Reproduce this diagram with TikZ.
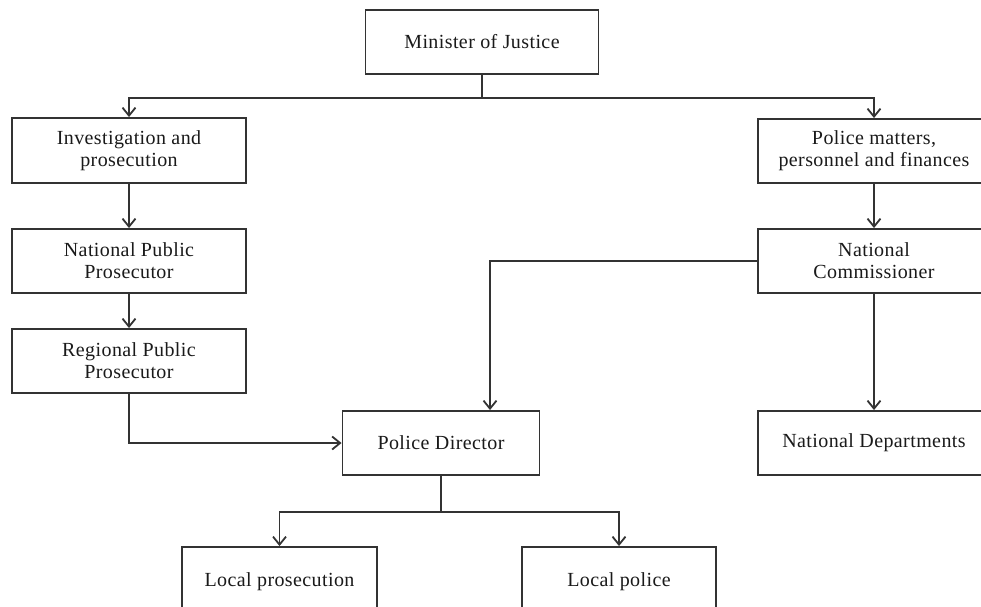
\documentclass[tikz,border=0pt]{standalone}
\usepackage{fontspec}
\setmainfont{Liberation Serif}[LetterSpace=2]
\usetikzlibrary{arrows.meta,calc}
\definecolor{linecol}{HTML}{333333}
\definecolor{textcol}{HTML}{1A1A1A}
\tikzset{
  box/.style={draw=linecol, line width=1.9pt, fill=white, rectangle, align=center,
    text=textcol, font=\fontsize{20}{22}\selectfont, inner sep=0pt},
  arr/.style={draw=linecol, line width=1.8pt, -{Straight Barb[length=8pt,width=13pt,line width=1.8pt]}},
  plainline/.style={draw=linecol, line width=1.8pt}
}
\begin{document}
\begin{tikzpicture}[x=1pt,y=-1pt]
\useasboundingbox (0,0) rectangle (981,606);
\clip (0,0) rectangle (981,606);
\fill[white] (0,0) rectangle (981,606);
\node[box, minimum width=233pt, minimum height=64pt] (min) at (482,42) {Minister of Justice};
\node[box, minimum width=234pt, minimum height=65pt] (inv) at (129,150.5) {Investigation and\\prosecution};
\node[box, minimum width=234pt, minimum height=64pt] (npp) at (129,261) {National Public\\Prosecutor};
\node[box, minimum width=234pt, minimum height=64pt] (rpp) at (129,361) {Regional Public\\Prosecutor};
\node[box, minimum width=197pt, minimum height=64pt] (pd) at (441,443) {Police Director};
\node[box, minimum width=232pt, minimum height=64pt] (pm) at (874,151) {Police matters,\\personnel and finances};
\node[box, minimum width=232pt, minimum height=64pt] (nc) at (874,261) {National\\Commissioner};
\node[box, minimum width=232pt, minimum height=64pt] (nd) at (874,443) {National Departments};
\node[box, minimum width=195pt, minimum height=70pt] (lp) at (279.5,582) {Local prosecution};
\node[box, minimum width=194pt, minimum height=70pt] (lpol) at (619,582) {Local police};
\coordinate (j1) at ($(min.south)+(0,23)$);
\coordinate (j2) at ($(pd.south)+(0,36)$);
\draw[plainline] (min.south) -- (j1);
\draw[arr] (j1) -| (inv.north);
\draw[arr] (j1) -| (pm.north);
\draw[arr] (inv) -- (npp);
\draw[arr] (npp) -- (rpp);
\draw[arr] (rpp.south) |- (pd.west);
\draw[arr] (pm) -- (nc);
\draw[arr] (nc.west) -| ([xshift=49pt]pd.north);
\draw[arr] (nc) -- (nd);
\draw[plainline] (pd.south) -- (j2);
\draw[arr] (j2) -| (lp.north);
\draw[arr] (j2) -| (lpol.north);
\end{tikzpicture}
\end{document}
